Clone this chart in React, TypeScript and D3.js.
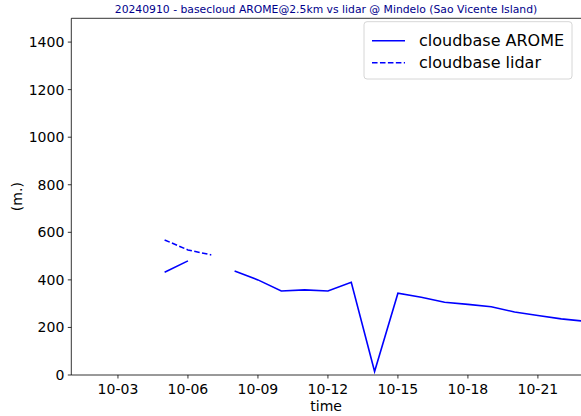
import * as d3 from "d3";

const titleText = "20240910 - basecloud AROME@2.5km vs lidar @ Mindelo (Sao Vicente Island)";

// days of October, 2024
const aromeDays = [5, 6, 7, 8, 9, 10, 11, 12, 13, 14, 15, 16, 17, 18, 19, 20, 21, 22, 23];
const aromeValues = [432, 480, null, 437, 400, 353, 358, 353, 390, 15, 344, 327, 306, 297, 287, 265, 250, 236, 226];

const lidarDays = [5, 6, 7];
const lidarValues = [568, 526, 505];

const xTickDays = [3, 6, 9, 12, 15, 18, 21];
const xTickLabels = ["10-03", "10-06", "10-09", "10-12", "10-15", "10-18", "10-21"];
const yTicks = [0, 200, 400, 600, 800, 1000, 1200, 1400];

const W = 581;
const H = 416;
const left = 71.3;
const top = 18.3;
const bottom = 375;
const right = 581;
const pxPerDay = 23.33;

const day = (d: number) => new Date(2024, 9, d);

export default function App() {
  const spanDays = (right - left) / pxPerDay;
  const x = d3
    .scaleTime()
    .domain([day(1), new Date(day(1).getTime() + spanDays * 86400000)])
    .range([left, right]);
  const y = d3.scaleLinear().domain([0, 1500]).range([bottom, top]);

  const line = d3
    .line<{ d: number; v: number | null }>()
    .defined((p) => p.v != null)
    .x((p) => x(day(p.d)))
    .y((p) => y(p.v as number));

  const arome = aromeDays.map((d, i) => ({ d, v: aromeValues[i] }));
  const lidar = lidarDays.map((d, i) => ({ d, v: lidarValues[i] }));
  const font = "DejaVu Sans, sans-serif";

  return (
    <svg
      width={W}
      height={H}
      style={{ position: "absolute", left: 0, top: 0, background: "#fff" }}
      fontFamily={font}
    >
      <defs>
        <clipPath id="plot">
          <rect x={left} y={top} width={right - left} height={bottom - top} />
        </clipPath>
      </defs>
      <text x={326} y={13} textAnchor="middle" fontSize={10.8} fill="#00008b">
        {titleText}
      </text>

      <g clipPath="url(#plot)">
        <path d={line(arome) ?? ""} fill="none" stroke="#0000ff" strokeWidth={1.6} />
        <path
          d={line(lidar) ?? ""}
          fill="none"
          stroke="#0000ff"
          strokeWidth={1.6}
          strokeDasharray="5.55 2.4"
        />
      </g>

      {/* axes */}
      <line x1={left} x2={left} y1={top} y2={bottom} stroke="#000" strokeWidth={0.8} />
      <line x1={left} x2={right} y1={top} y2={top} stroke="#000" strokeWidth={0.8} />
      <line x1={left} x2={right} y1={bottom} y2={bottom} stroke="#000" strokeWidth={0.8} />

      {yTicks.map((t) => (
        <g key={t}>
          <line x1={left - 3.5} x2={left} y1={y(t)} y2={y(t)} stroke="#000" strokeWidth={0.8} />
          <text x={left - 7} y={y(t)} dy="0.35em" textAnchor="end" fontSize={14} fill="#000">
            {t}
          </text>
        </g>
      ))}
      {xTickDays.map((d, i) => (
        <g key={d}>
          <line
            x1={x(day(d))}
            x2={x(day(d))}
            y1={bottom}
            y2={bottom + 3.5}
            stroke="#000"
            strokeWidth={0.8}
          />
          <text x={x(day(d))} y={bottom + 18.5} textAnchor="middle" fontSize={14} fill="#000">
            {xTickLabels[i]}
          </text>
        </g>
      ))}

      <text x={(left + right) / 2} y={411} textAnchor="middle" fontSize={14} fill="#000">
        time
      </text>
      <text
        transform={`translate(22, ${(top + bottom) / 2}) rotate(-90)`}
        textAnchor="middle"
        fontSize={14}
        fill="#000"
      >
        (m.)
      </text>

      {/* legend */}
      <rect
        x={364}
        y={21.7}
        width={208}
        height={57.3}
        rx={3}
        fill="#fff"
        fillOpacity={0.8}
        stroke="#cccccc"
        strokeWidth={0.8}
      />
      <line x1={372} x2={405} y1={40.7} y2={40.7} stroke="#0000ff" strokeWidth={1.6} />
      <line
        x1={372}
        x2={405}
        y1={62.7}
        y2={62.7}
        stroke="#0000ff"
        strokeWidth={1.6}
        strokeDasharray="5.55 2.4"
      />
      <text x={419} y={40.7} dy="0.35em" fontSize={16} fill="#000">
        cloudbase AROME
      </text>
      <text x={419} y={62.7} dy="0.35em" fontSize={16} fill="#000">
        cloudbase lidar
      </text>
    </svg>
  );
}
